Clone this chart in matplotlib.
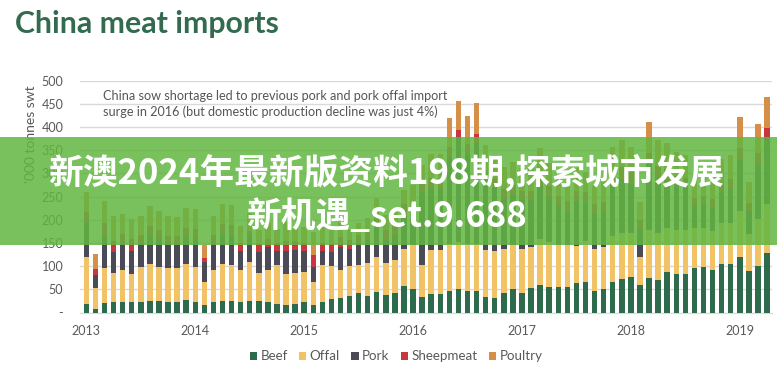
import matplotlib
matplotlib.use("Agg")
import matplotlib.pyplot as plt
from matplotlib.patches import Rectangle
import numpy as np

years = ["2013", "2014", "2015", "2016", "2017", "2018", "2019"]
series_names = ["Beef", "Offal", "Pork", "Sheepmeat", "Poultry"]
colors = ["#2e6a4c", "#f2c266", "#4b4b58", "#c8373d", "#d68f48"]

beef = [18, 8, 21, 22, 22, 22, 22, 24, 24, 22, 22, 26,
        22, 17, 22, 24, 25, 22, 24, 24, 22, 18, 16, 18,
        22, 17, 22, 30, 32, 36, 41, 36, 44, 37, 41, 58,
        51, 33, 40, 40, 47, 51, 47, 47, 34, 32, 41, 51,
        43, 52, 59, 56, 56, 56, 63, 65, 47, 51, 65, 72,
        76, 59, 74, 71, 87, 83, 83, 97, 98, 91, 104, 104,
        119, 90, 101, 129]
offal = [102, 45, 76, 64, 70, 62, 76, 80, 75, 74, 74, 78,
         77, 48, 70, 80, 77, 70, 86, 62, 70, 84, 66, 67,
         66, 49, 80, 70, 60, 65, 62, 70, 75, 70, 72, 80,
         95, 70, 95, 95, 100, 100, 100, 100, 100, 100, 95, 95,
         95, 90, 100, 95, 90, 90, 80, 90, 90, 90, 100, 100,
         95, 61, 105, 100, 95, 95, 95, 85, 85, 85, 90, 90,
         100, 80, 100, 105]
pork = [75, 28, 70, 44, 55, 48, 50, 62, 60, 52, 52, 58,
        60, 45, 55, 65, 64, 40, 50, 45, 50, 30, 50, 50,
        45, 33, 30, 30, 50, 35, 45, 50, 70, 50, 55, 70,
        62, 156, 132, 132, 186, 227, 195, 219, 151, 136, 108, 107,
        105, 101, 116, 99, 85, 74, 98, 84, 76, 77, 112, 117,
        106, 61, 141, 121, 103, 95, 90, 47, 50, 50, 66, 72,
        110, 49, 118, 143]
sheep = [22, 13, 25, 25, 22, 26, 20, 20, 19, 18, 18, 20,
         22, 8, 20, 22, 22, 18, 16, 16, 16, 18, 22, 20,
         17, 25, 18, 18, 20, 20, 20, 22, 25, 22, 22, 25,
         22, 20, 24, 24, 25, 15, 22, 20, 22, 22, 22, 22,
         20, 20, 25, 22, 20, 20, 22, 20, 20, 20, 25, 25,
         25, 18, 25, 25, 25, 22, 22, 18, 18, 18, 22, 22,
         25, 18, 25, 22]
poultry = [43, 32, 48, 54, 43, 44, 41, 44, 42, 42, 41, 44,
           42, 27, 42, 44, 44, 37, 38, 31, 38, 30, 42, 28,
           35, 50, 35, 33, 34, 25, 24, 25, 32, 31, 27, 31,
           45, 40, 50, 50, 62, 63, 60, 65, 55, 50, 48, 50,
           48, 48, 55, 50, 45, 42, 48, 45, 42, 45, 55, 58,
           55, 40, 65, 55, 55, 52, 50, 42, 45, 45, 50, 52,
           68, 45, 62, 66]

data = [beef, offal, pork, sheep, poultry]
n = len(beef)
x = np.arange(n)

W, H = 777, 385
fig = plt.figure(figsize=(W / 100, H / 100), dpi=100)
fig.patch.set_facecolor("white")

ax = fig.add_axes([80 / W, 1 - 312.5 / H, (772 - 80) / W, (312.5 - 80.7) / H])
ax.set_facecolor("white")

bottom = np.zeros(n)
for vals, c, name in zip(data, colors, series_names):
    v = np.array(vals, dtype=float)
    ax.bar(x, v, width=0.6, bottom=bottom, color=c, label=name, zorder=3, linewidth=0)
    bottom += v

ax.set_ylim(0, 500)
ax.set_xlim(-0.7, n - 0.45)
ax.set_yticks(np.arange(0, 501, 50))
ax.set_yticklabels(["-"] + [str(v) for v in range(50, 501, 50)])
ax.yaxis.grid(True, color="#d9d9d9", linewidth=1.0, zorder=0)
ax.set_axisbelow(True)
ax.set_xticks(np.arange(0, n, 12))
ax.set_xticklabels(years)
ax.tick_params(axis="both", length=0, labelsize=9, labelcolor="#595959")
ax.tick_params(axis="x", pad=9)
ax.tick_params(axis="y", pad=12)
for s in ["left", "right", "top"]:
    ax.spines[s].set_visible(False)
ax.spines["bottom"].set_color("#d9d9d9")

for lab in ax.get_xticklabels() + ax.get_yticklabels():
    lab.set_family("Lato")

fig.text(31 / W, 1 - 134 / H, "'000 tonnes swt", rotation=90, ha="center", va="center",
         fontsize=10, color="#595959", family="Lato")

fig.text(15 / W, 1 - 24 / H, "China meat imports", ha="left", va="center",
         fontsize=21.8, fontweight="bold", color="#336b50", family="Lato")

fig.text(103 / W, 1 - 104 / H,
         "China sow shortage led to previous pork and pork offal import\n"
         "surge in 2016 (but domestic production decline was just 4%)",
         ha="left", va="center", fontsize=9.1, color="#555555", family="Lato",
         linespacing=1.25)

leg = fig.legend(loc="center", bbox_to_anchor=(396 / W, 1 - 356.5 / H), ncol=5,
                 frameon=False, handlelength=0.55, handleheight=0.55,
                 handletextpad=0.25, columnspacing=0.85,
                 prop={"family": "Lato", "size": 9.6})
for t in leg.get_texts():
    t.set_color("#595959")

# overlay banner
fig.patches.append(Rectangle((0, 1 - 245 / H), 1, (245 - 137) / H, transform=fig.transFigure,
                             facecolor="#62b640", alpha=0.85, zorder=10, edgecolor="none"))
fig.text(0.497, 1 - 172 / H, "新澳2024年最新版资料198期,探索城市发展", ha="center", va="center",
         fontsize=25, fontweight="bold", color="white",
         family=["Noto Sans CJK SC", "DejaVu Sans"], zorder=11)
fig.text(0.497, 1 - 216 / H, "新机遇_set.9.688", ha="center", va="center",
         fontsize=25, fontweight="bold", color="white",
         family=["Noto Sans CJK SC", "DejaVu Sans"], zorder=11)

fig.savefig("out.png", dpi=100)
